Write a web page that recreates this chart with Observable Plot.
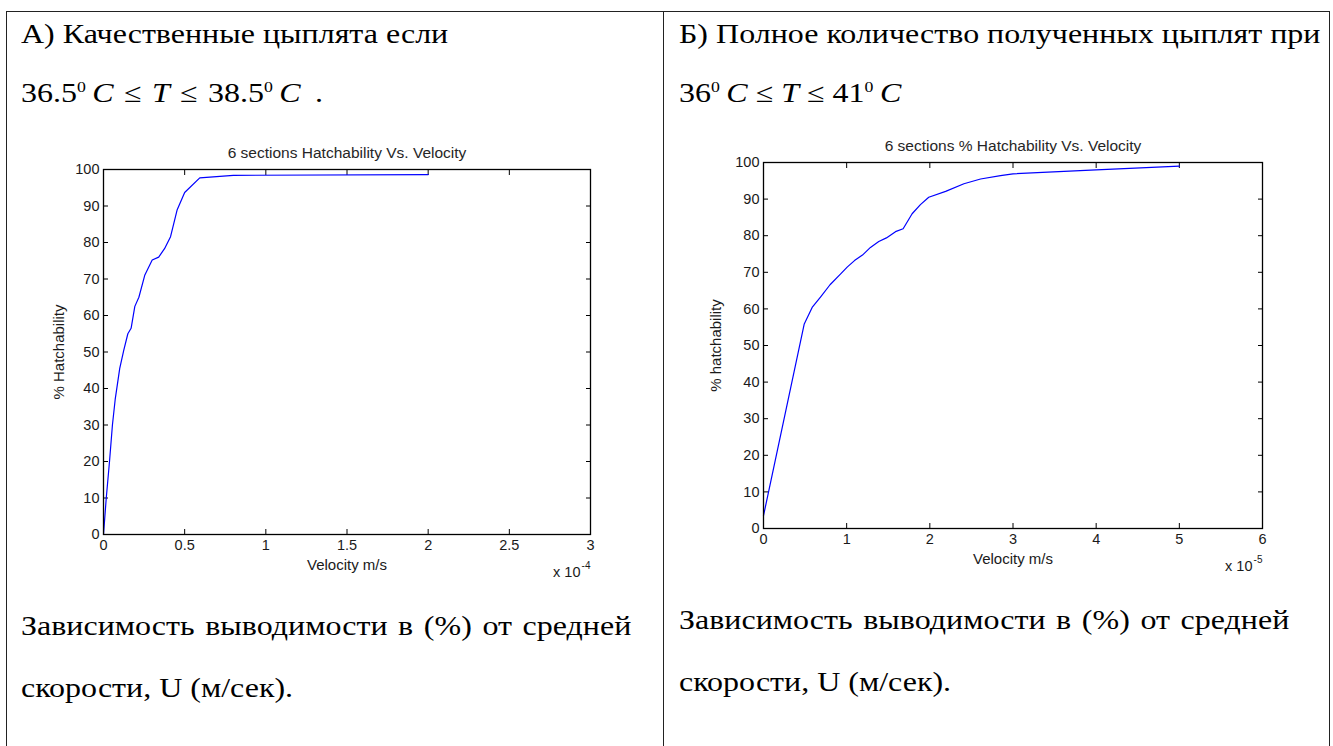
<!DOCTYPE html>
<html>
<head>
<meta charset="utf-8">
<script src="https://cdn.jsdelivr.net/npm/d3@7"></script>
<script src="https://cdn.jsdelivr.net/npm/@observablehq/plot@0.6"></script>
<style>
  html, body { margin: 0; padding: 0; background: #fff; }
  body { width: 1333px; height: 746px; position: relative; overflow: hidden; font-family: "Liberation Serif", "Times New Roman", serif; color: #000; }
  .ln { position: absolute; background: #222; }
  .t { position: absolute; font-size: 27px; line-height: 1; white-space: nowrap; transform: scaleX(1.185); transform-origin: 0 0; }
  .t sup { font-size: 15px; vertical-align: 0; position: relative; top: -10px; }
  .t i { font-style: italic; }
  .le { margin: 0 2px; }
  .j { text-align: justify; text-align-last: justify; white-space: normal; }
  .chart { position: absolute; }
</style>
</head>
<body>
<div class="ln" style="left:6px; top:11px; width:1324px; height:1px;"></div>
<div class="ln" style="left:6px; top:11px; width:1px; height:735px;"></div>
<div class="ln" style="left:663px; top:11px; width:1px; height:735px;"></div>
<div class="ln" style="left:1329px; top:11px; width:1px; height:735px;"></div>

<div class="t" style="left:21px; top:20.5px;">А) Качественные цыплята если</div>
<div class="t" style="left:21px; top:79.5px;">36.5<sup>0</sup>&#8201;<i>C</i> <span class="le">≤</span> <i>T</i> <span class="le">≤</span> 38.5<sup>0</sup>&#8201;<i>C</i><span style="margin-left:12px">.</span></div>
<div class="t" style="left:679px; top:20.5px;">Б) Полное количество полученных цыплят при</div>
<div class="t" style="left:679px; top:79.5px;">36<sup>0</sup>&#8201;<i>C</i> ≤ <i>T</i> ≤ 41<sup>0</sup>&#8201;<i>C</i></div>

<div class="t j" style="left:21px; top:613px; width:515px;">Зависимость выводимости в (%) от средней</div>
<div class="t" style="left:21px; top:675px;">скорости, U (м/сек).</div>
<div class="t j" style="left:679px; top:607px; width:515px;">Зависимость выводимости в (%) от средней</div>
<div class="t" style="left:679px; top:669px;">скорости, U (м/сек).</div>

<div id="chartA" class="chart" style="left:40px; top:140px;"></div>
<div id="chartB" class="chart" style="left:700px; top:130px;"></div>

<script>
// Chart A: velocity in units of 10^-4 m/s, % hatchability
const velA = [0, 0.017, 0.037, 0.055, 0.072, 0.1, 0.125, 0.15, 0.17, 0.193, 0.218, 0.254, 0.3, 0.34, 0.376, 0.413, 0.454, 0.5, 0.593, 0.8, 2.0];
const hatchA = [0, 10, 20, 30, 37, 45.5, 50.5, 55, 56.5, 62.5, 65, 71, 75.2, 76, 78.3, 81.6, 89, 93.7, 97.7, 98.4, 98.6];
// Chart B: velocity in units of 10^-5 m/s, % hatchability
const velB = [0, 0.49, 0.585, 0.685, 0.8, 0.925, 1.006, 1.094, 1.19, 1.286, 1.386, 1.478, 1.587, 1.679, 1.787, 1.887, 1.987, 2.19, 2.41, 2.61, 2.85, 3.0, 4.0, 5.0];
const hatchB = [3.5, 55.9, 60.4, 63.2, 66.6, 69.5, 71.4, 73.2, 74.7, 76.8, 78.4, 79.4, 81.1, 81.9, 86, 88.5, 90.5, 92.1, 94.2, 95.5, 96.4, 96.9, 98.0, 99.0];

const xTicksA = [0, 0.5, 1, 1.5, 2, 2.5, 3];
const xTicksB = [0, 1, 2, 3, 4, 5, 6];
const yTicks = [0, 10, 20, 30, 40, 50, 60, 70, 80, 90, 100];

const titleA = "6 sections Hatchability Vs. Velocity";
const titleB = "6 sections % Hatchability Vs. Velocity";
const yLabelA = "% Hatchability";
const yLabelB = "% hatchability";
const xLabel = "Velocity m/s";
const expA = "-4";
const expB = "-5";

function chart({vel, hatch, xTicks, title, yLabel, exp, width, height, margin, yLabelOffset}) {
  const data = vel.map((v, i) => ({v, h: hatch[i]}));
  const xDomain = [xTicks[0], xTicks[xTicks.length - 1]];
  const fmt = d => String(d);
  return Plot.plot({
    width, height,
    marginLeft: margin[3], marginTop: margin[0], marginRight: margin[1], marginBottom: margin[2],
    style: {fontFamily: "'Liberation Sans', Arial, Helvetica, sans-serif", fontSize: "14.5px", color: "#1a1a1a", background: "transparent", overflow: "visible"},
    x: {domain: xDomain},
    y: {domain: [0, 100]},
    marks: [
      Plot.axisX(xTicks, {anchor: "bottom", tickSize: -5, tickPadding: 10, tickFormat: fmt, label: null, stroke: "#000"}),
      Plot.axisX(xTicks, {anchor: "top", tickSize: -5, tickFormat: () => "", label: null, stroke: "#000"}),
      Plot.axisY(yTicks, {anchor: "left", tickSize: -5, tickPadding: 9, tickFormat: fmt, label: null, stroke: "#000"}),
      Plot.axisY(yTicks, {anchor: "right", tickSize: -5, tickFormat: () => "", label: null, stroke: "#000"}),
      Plot.line(data, {x: "v", y: "h", stroke: "#0000ff", strokeWidth: 1.2}),
      Plot.frame({stroke: "#000", strokeWidth: 1.3}),
      Plot.text([xLabel], {frameAnchor: "bottom", textAnchor: "middle", lineAnchor: "bottom", dy: 35, text: d => d, fontSize: 15, fill: "#1a1a1a"}),
      Plot.text([yLabel], {frameAnchor: "left", textAnchor: "middle", lineAnchor: "top", rotate: -90, dx: -yLabelOffset, text: d => d, fontSize: 15, fill: "#1a1a1a"}),
      Plot.text([title], {frameAnchor: "top", textAnchor: "middle", lineAnchor: "bottom", dy: -12, text: d => d, fontSize: 15.5, fill: "#262626"}),
      Plot.text(["x 10"], {frameAnchor: "bottom-right", textAnchor: "end", lineAnchor: "bottom", dx: -10, dy: 42, text: d => d, fontSize: 14.5}),
      Plot.text([exp], {frameAnchor: "bottom-right", textAnchor: "end", lineAnchor: "bottom", dx: 0, dy: 34, text: d => d, fontSize: 10})
    ]
  });
}

document.getElementById("chartA").append(chart({
  vel: velA, hatch: hatchA, xTicks: xTicksA, title: titleA, yLabel: yLabelA, exp: expA,
  width: 580, height: 450, margin: [29, 30, 56, 63], yLabelOffset: 50
}));
document.getElementById("chartB").append(chart({
  vel: velB, hatch: hatchB, xTicks: xTicksB, title: titleB, yLabel: yLabelB, exp: expB,
  width: 590, height: 460, margin: [32, 28, 62, 63], yLabelOffset: 53
}));
</script>
</body>
</html>
